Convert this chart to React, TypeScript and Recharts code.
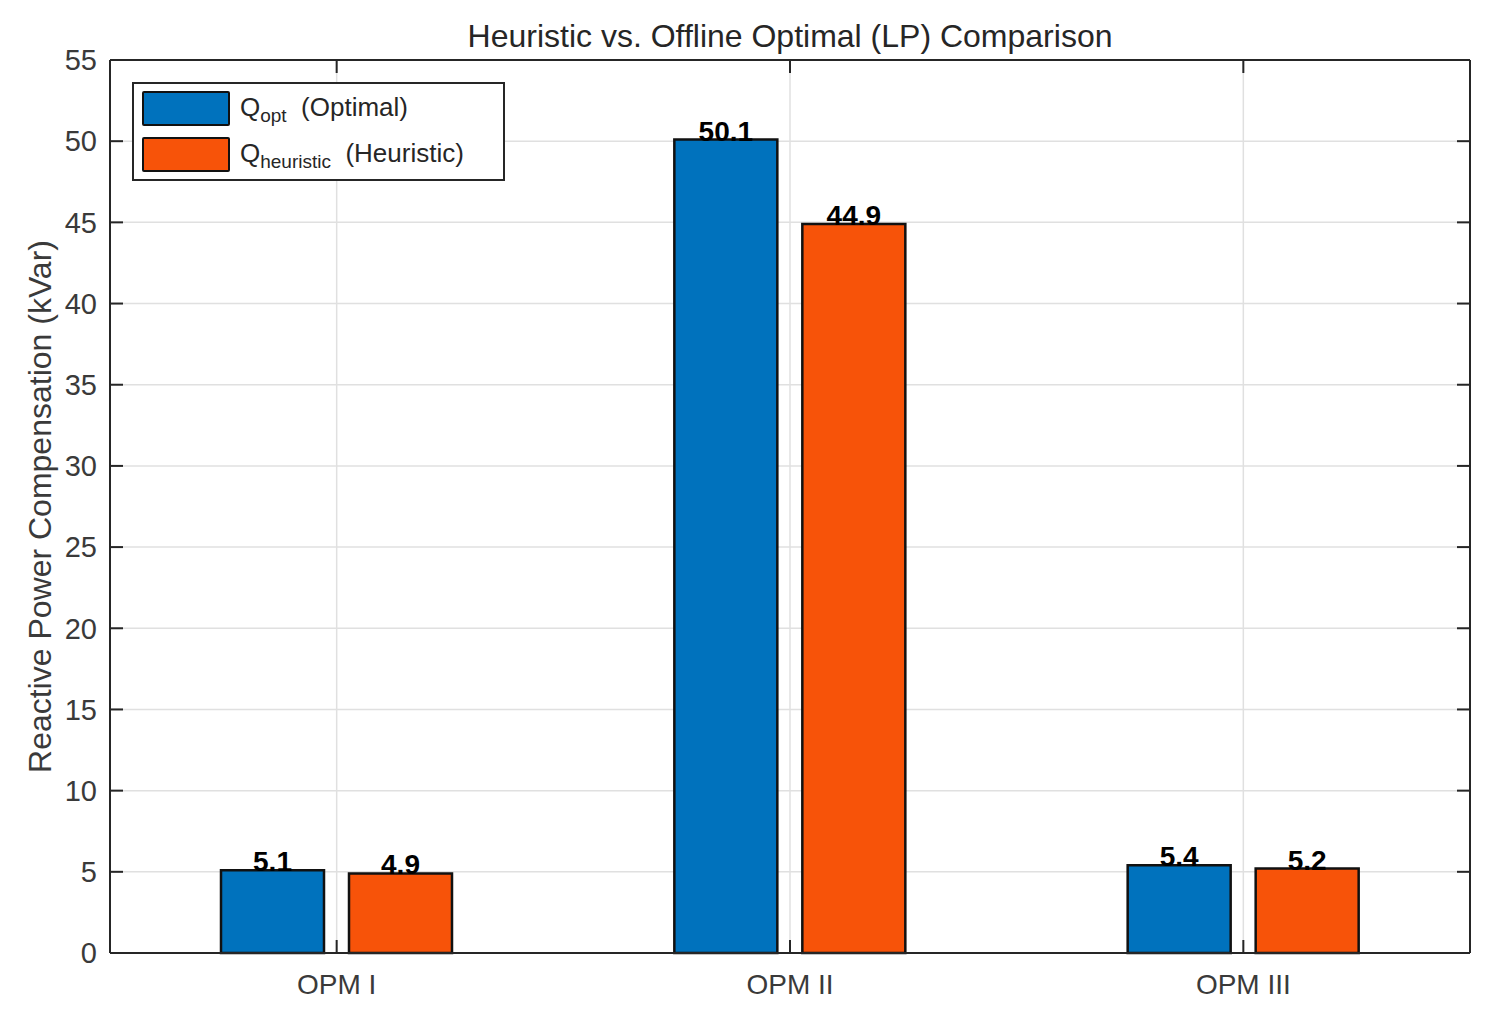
import React from 'react';
import {
  ComposedChart,
  Bar,
  Line,
  XAxis,
  YAxis,
  CartesianGrid,
  Legend,
  LabelList,
} from 'recharts';

// values
const categories = ['OPM I', 'OPM II', 'OPM III'];
const optimalValues = [5.1, 50.1, 5.4];
const heuristicValues = [4.9, 44.9, 5.2];
const yTicks = [0, 5, 10, 15, 20, 25, 30, 35, 40, 45, 50, 55];

const data = categories.map((name, i) => ({
  name,
  optimal: optimalValues[i],
  heuristic: heuristicValues[i],
}));

const BLUE = '#0072BD';
const ORANGE = '#F75309';
const AXIS = '#262626';
const FONT = '"Liberation Sans", Arial, sans-serif';

// tick marks only, no labels (top / right box axes)
const NoLabel = () => <g />;

// MATLAB-style boxed legend with subscripts
const renderLegend = () => {
  const rows = [
    { color: BLUE, sub: 'opt', label: '(Optimal)' },
    { color: ORANGE, sub: 'heuristic', label: '(Heuristic)' },
  ];
  return (
    <div
      style={{
        width: 373,
        height: 99,
        boxSizing: 'border-box',
        border: `2px solid ${AXIS}`,
        background: '#fff',
        padding: '7px 0 0 8px',
        fontFamily: FONT,
        color: AXIS,
      }}
    >
      {rows.map((r) => (
        <div key={r.sub} style={{ display: 'flex', alignItems: 'center', height: 35, marginBottom: 11 }}>
          <div
            style={{
              width: 88,
              height: 35,
              boxSizing: 'border-box',
              background: r.color,
              border: '2px solid #111',
              borderRadius: 2,
            }}
          />
          <span style={{ marginLeft: 10, fontSize: 26, whiteSpace: 'pre', lineHeight: '35px' }}>
            Q
            <span style={{ fontSize: 19, position: 'relative', top: 6 }}>{r.sub}</span>
            {'  ' + r.label}
          </span>
        </div>
      ))}
    </div>
  );
};

export default function App() {
  return (
    <div style={{ width: 1484, height: 1004, fontFamily: FONT, background: '#fff' }}>
      <ComposedChart
        width={1484}
        height={1004}
        data={data}
        margin={{ top: 51, right: 21, left: 2, bottom: 19 }}
        barSize={103}
        barGap={25}
      >
        <CartesianGrid stroke="#e0e0e0" strokeWidth={1.5} />
        <XAxis
          dataKey="name"
          height={40}
          stroke={AXIS}
          strokeWidth={2}
          tickSize={-13}
          tickMargin={34}
          tick={{ fill: '#3a3a3a', fontSize: 28 }}
        />
        <XAxis
          xAxisId="top"
          orientation="top"
          dataKey="name"
          height={1}
          stroke={AXIS}
          strokeWidth={2}
          tickSize={-13}
          tick={NoLabel}
          label={{
            value: 'Heuristic vs. Offline Optimal (LP) Comparison',
            position: 'top',
            offset: 12,
            fill: AXIS,
            fontSize: 32,
          }}
        />
        <YAxis
          width={100}
          domain={[0, 55]}
          ticks={yTicks}
          interval={0}
          stroke={AXIS}
          strokeWidth={2}
          tickSize={-13}
          tickMargin={26}
          tick={{ fill: '#3a3a3a', fontSize: 29 }}
          label={{
            value: 'Reactive Power Compensation (kVar)',
            angle: -90,
            position: 'insideLeft',
            offset: 30,
            fill: '#3a3a3a',
            fontSize: 32,
            style: { textAnchor: 'middle' },
          }}
        />
        <YAxis
          yAxisId="right"
          orientation="right"
          width={1}
          domain={[0, 55]}
          ticks={yTicks}
          interval={0}
          stroke={AXIS}
          strokeWidth={2}
          tickSize={-13}
          tick={NoLabel}
        />
        <Legend
          layout="vertical"
          align="center"
          verticalAlign="middle"
          content={renderLegend}
          wrapperStyle={{ left: 124, top: 74, width: 373, height: 99 }}
        />
        <Bar dataKey="optimal" fill={BLUE} stroke="#111" strokeWidth={2.5} isAnimationActive={false}>
          <LabelList dataKey="optimal" position="top" offset={-1} fill="#000" fontSize={28} fontWeight="bold" />
        </Bar>
        <Bar dataKey="heuristic" fill={ORANGE} stroke="#111" strokeWidth={2.5} isAnimationActive={false}>
          <LabelList dataKey="heuristic" position="top" offset={-1} fill="#000" fontSize={28} fontWeight="bold" />
        </Bar>
        {/* invisible series so the right box axis gets its scale and tick marks */}
        <Line
          yAxisId="right"
          dataKey="optimal"
          stroke="none"
          dot={false}
          activeDot={false}
          legendType="none"
          isAnimationActive={false}
        />
      </ComposedChart>
    </div>
  );
}
